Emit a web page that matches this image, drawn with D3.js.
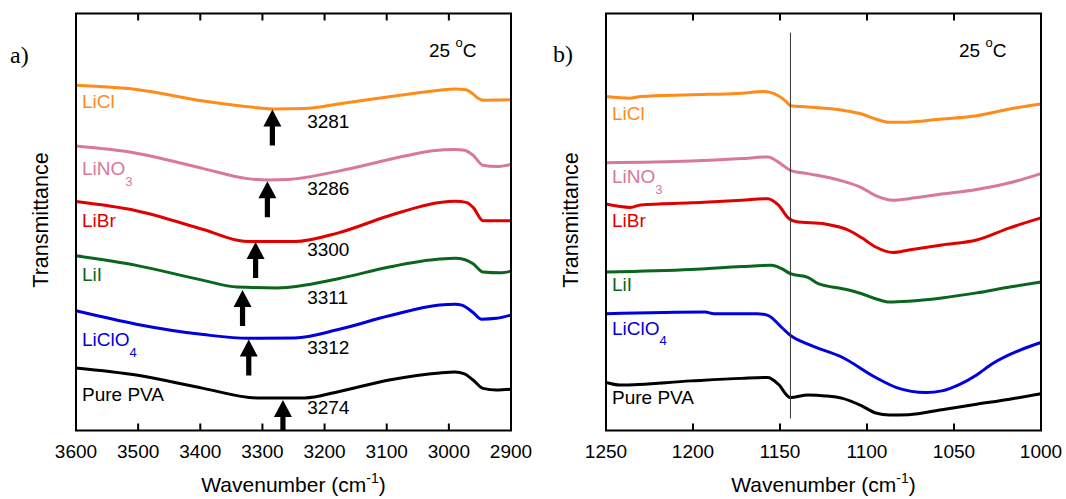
<!DOCTYPE html>
<html>
<head>
<meta charset="utf-8">
<script src="https://cdn.jsdelivr.net/npm/d3@7"></script>
<style>
  body { margin: 0; background: #fff; }
  svg text { font-family: "Liberation Sans", Arial, sans-serif; }
</style>
</head>
<body>
<div id="chart"></div>
<script>
// FTIR spectra, transmittance in arbitrary units (offset for clarity)
// [wavenumber, transmittance]
var samples = ["LiCl", "LiNO3", "LiBr", "LiI", "LiClO4", "Pure PVA"];

// O-H stretching region
var ohLiCl = [[3600, 8.28], [3503, 8.18], [3395, 7.90], [3308, 7.74], [3280, 7.71], [3232, 7.72], [3178, 7.83], [3069, 8.06], [3015, 8.16], [2990, 8.19], [2972, 8.17], [2962, 8.08], [2952, 7.96], [2945, 7.92], [2900, 7.93]];
var ohLiNO3 = [[3600, 6.82], [3503, 6.65], [3395, 6.28], [3324, 6.04], [3290, 6.01], [3259, 6.02], [3178, 6.22], [3069, 6.59], [3026, 6.71], [2990, 6.74], [2975, 6.72], [2961, 6.60], [2945, 6.36], [2923, 6.33], [2900, 6.38]];
var ohLiBr = [[3600, 5.49], [3503, 5.27], [3395, 4.82], [3330, 4.54], [3300, 4.53], [3248, 4.53], [3178, 4.74], [3096, 5.15], [3015, 5.47], [2990, 5.50], [2972, 5.47], [2961, 5.35], [2945, 5.03], [2900, 5.03]];
var ohLiI = [[3600, 4.19], [3503, 3.96], [3395, 3.60], [3341, 3.44], [3276, 3.42], [3178, 3.64], [3096, 3.92], [3015, 4.11], [2990, 4.13], [2975, 4.10], [2961, 4.00], [2945, 3.80], [2918, 3.78], [2900, 3.82]];
var ohLiClO4 = [[3600, 2.87], [3503, 2.55], [3395, 2.30], [3322, 2.21], [3248, 2.22], [3178, 2.42], [3096, 2.75], [3015, 3.01], [2990, 3.03], [2978, 3.00], [2961, 2.83], [2948, 2.67], [2923, 2.69], [2900, 2.77]];
var ohPVA = [[3600, 1.50], [3503, 1.33], [3395, 1.01], [3308, 0.78], [3232, 0.78], [3178, 0.93], [3096, 1.21], [3015, 1.38], [2990, 1.40], [2975, 1.36], [2961, 1.21], [2945, 1.01], [2923, 0.97], [2900, 0.99]];

// C-O stretching region
var coLiCl = [[1250, 8.01], [1236, 7.97], [1230, 8.01], [1201, 8.05], [1172, 8.09], [1159, 8.13], [1153, 8.07], [1147, 7.91], [1144, 7.79], [1134, 7.76], [1114, 7.68], [1103, 7.59], [1095, 7.47], [1087, 7.39], [1080, 7.39], [1057, 7.47], [1037, 7.55], [1018, 7.71], [1000, 7.83]];
var coLiNO3 = [[1250, 6.42], [1201, 6.46], [1172, 6.52], [1157, 6.56], [1149, 6.38], [1144, 6.24], [1134, 6.16], [1114, 5.98], [1103, 5.82], [1095, 5.63], [1085, 5.52], [1076, 5.56], [1057, 5.67], [1037, 5.78], [1018, 5.94], [1000, 6.16]];
var coLiBr = [[1250, 5.43], [1236, 5.35], [1230, 5.41], [1201, 5.46], [1172, 5.52], [1157, 5.56], [1151, 5.41], [1145, 5.09], [1141, 5.01], [1124, 4.95], [1110, 4.79], [1103, 4.62], [1095, 4.40], [1085, 4.27], [1076, 4.33], [1057, 4.45], [1037, 4.57], [1018, 4.86], [1000, 5.10]];
var coLiI = [[1250, 3.80], [1201, 3.86], [1172, 3.93], [1155, 3.96], [1149, 3.88], [1144, 3.76], [1134, 3.67], [1128, 3.52], [1114, 3.40], [1103, 3.28], [1095, 3.16], [1087, 3.08], [1076, 3.10], [1057, 3.18], [1037, 3.30], [1018, 3.44], [1000, 3.56]];
var coLiClO4 = [[1250, 2.80], [1193, 2.84], [1188, 2.80], [1163, 2.80], [1157, 2.76], [1149, 2.47], [1144, 2.28], [1134, 2.07], [1114, 1.75], [1095, 1.27], [1083, 1.03], [1066, 0.91], [1057, 0.95], [1047, 1.10], [1037, 1.33], [1028, 1.60], [1012, 1.93], [1000, 2.11]];
var coPVA = [[1250, 1.15], [1242, 1.09], [1201, 1.19], [1172, 1.25], [1157, 1.27], [1151, 1.11], [1144, 0.79], [1134, 0.85], [1124, 0.83], [1114, 0.77], [1103, 0.59], [1095, 0.42], [1087, 0.37], [1076, 0.38], [1057, 0.50], [1037, 0.63], [1018, 0.75], [1000, 0.88]];

// O-H band minima marked with arrows
var peakLabels = ["3281", "3286", "3300", "3311", "3312", "3274"];
var arrowWavenumber = [3284, 3292, 3311, 3332, 3322, 3267];
var arrowTip = [7.70, 5.98, 4.52, 3.37, 2.18, 0.73];

var xTicksA = [3600, 3500, 3400, 3300, 3200, 3100, 3000, 2900];
var xTicksB = [1250, 1200, 1150, 1100, 1050, 1000];
var markerLine = 1144;

var colors = ["#ff8c1a", "#d8799a", "#e00000", "#0a661f", "#0000dd", "#000000"];

var width = 1066, height = 499;

var svg = d3.select("#chart").append("svg")
    .attr("width", width)
    .attr("height", height);

var panels = [
    {
        left: 76, top: 13.5, w: 435, h: 417,
        domain: [3600, 2900], ticks: xTicksA,
        series: [ohLiCl, ohLiNO3, ohLiBr, ohLiI, ohLiClO4, ohPVA],
        tag: "a)", tagDx: -66, tagY: 63,
        labelY: [108.3, 175.3, 226.6, 280.5, 346.2, 401.2],
        arrows: true
    },
    {
        left: 606, top: 13.5, w: 435, h: 417,
        domain: [1250, 1000], ticks: xTicksB,
        series: [coLiCl, coLiNO3, coLiBr, coLiI, coLiClO4, coPVA],
        tag: "b)", tagDx: -53, tagY: 62,
        labelY: [119.8, 183, 226.5, 291, 334.6, 403.8],
        marker: markerLine
    }
];

panels.forEach(function (p) {
    var x = d3.scaleLinear().domain(p.domain).range([p.left, p.left + p.w]);
    var y = d3.scaleLinear().domain([0, 10]).range([p.top + p.h, p.top]);
    var bottom = p.top + p.h;

    var line = d3.line()
        .x(function (d) { return x(d[0]); })
        .y(function (d) { return y(d[1]); })
        .curve(d3.curveMonotoneX);

    // spectra
    p.series.forEach(function (s, i) {
        svg.append("path")
            .datum(s)
            .attr("fill", "none")
            .attr("stroke", colors[i])
            .attr("stroke-width", 3)
            .attr("stroke-linejoin", "round")
            .attr("d", line);
    });

    // sample names, with subscripts
    samples.forEach(function (name, i) {
        var t = svg.append("text")
            .attr("x", p.left + 6)
            .attr("y", p.labelY[i])
            .attr("fill", colors[i])
            .style("font-size", "19px");
        var m = name.match(/^(.*?)(\d)$/);
        if (m) {
            t.append("tspan").text(m[1]);
            t.append("tspan").attr("dy", 10.5).style("font-size", "13px").text(m[2]);
        } else {
            t.text(name);
        }
    });

    // vertical guide line
    if (p.marker) {
        svg.append("line")
            .attr("x1", x(p.marker)).attr("x2", x(p.marker))
            .attr("y1", y(9.54)).attr("y2", y(0.29))
            .attr("stroke", "#333")
            .attr("stroke-width", 1);
    }

    // arrows + peak values
    if (p.arrows) {
        arrowWavenumber.forEach(function (wn, i) {
            var tipY = y(arrowTip[i]);
            var len = Math.min(36, bottom - tipY);
            var ax = x(wn);
            svg.append("path")
                .attr("fill", "#000")
                .attr("d", "M" + ax + "," + tipY +
                    "L" + (ax - 9) + "," + (tipY + 17) +
                    "L" + (ax - 2.6) + "," + (tipY + 17) +
                    "L" + (ax - 2.6) + "," + (tipY + len) +
                    "L" + (ax + 2.6) + "," + (tipY + len) +
                    "L" + (ax + 2.6) + "," + (tipY + 17) +
                    "L" + (ax + 9) + "," + (tipY + 17) + "Z");
            svg.append("text")
                .attr("x", x(3228))
                .attr("y", tipY + (i === 0 ? 18.5 : 14))
                .attr("fill", "#000")
                .style("font-size", "19px")
                .text(peakLabels[i]);
        });
    }

    // frame
    svg.append("rect")
        .attr("x", p.left).attr("y", p.top)
        .attr("width", p.w).attr("height", p.h)
        .attr("fill", "none")
        .attr("stroke", "#000")
        .attr("stroke-width", 2);

    // inner ticks top and bottom
    var inner = p.ticks.slice(1, -1);
    inner.forEach(function (t) {
        svg.append("line")
            .attr("x1", x(t)).attr("x2", x(t))
            .attr("y1", bottom).attr("y2", bottom - 7)
            .attr("stroke", "#000").attr("stroke-width", 2);
        svg.append("line")
            .attr("x1", x(t)).attr("x2", x(t))
            .attr("y1", p.top).attr("y2", p.top + 7)
            .attr("stroke", "#000").attr("stroke-width", 2);
    });

    // tick labels
    svg.selectAll(null)
        .data(p.ticks)
        .enter()
        .append("text")
        .attr("x", function (d) { return x(d); })
        .attr("y", bottom + 27)
        .attr("text-anchor", "middle")
        .style("font-size", "19px")
        .text(function (d) { return d; });

    // axis titles
    var xt = svg.append("text")
        .attr("x", p.left + p.w / 2)
        .attr("y", bottom + 61)
        .attr("text-anchor", "middle")
        .style("font-size", "21px");
    xt.append("tspan").text("Wavenumber (cm");
    xt.append("tspan").attr("dy", -9).style("font-size", "14px").text("-1");
    xt.append("tspan").attr("dy", 9).text(")");

    svg.append("text")
        .attr("transform", "translate(" + (p.left - 28) + "," + (p.top + p.h / 2 - 2) + ") rotate(-90)")
        .attr("text-anchor", "middle")
        .style("font-size", "21.5px")
        .text("Transmittance");

    // temperature note
    var tt = svg.append("text")
        .attr("x", p.left + 353)
        .attr("y", p.top + 43.5)
        .style("font-size", "19px");
    tt.append("tspan").text("25 ");
    tt.append("tspan").attr("dy", -10).style("font-size", "13px").text("o");
    tt.append("tspan").attr("dy", 10).text("C");

    // panel tag
    svg.append("text")
        .attr("x", p.left + p.tagDx)
        .attr("y", p.tagY)
        .style("font-family", "'Liberation Serif', 'Times New Roman', serif")
        .style("font-size", "24px")
        .text(p.tag);
});
</script>
</body>
</html>
